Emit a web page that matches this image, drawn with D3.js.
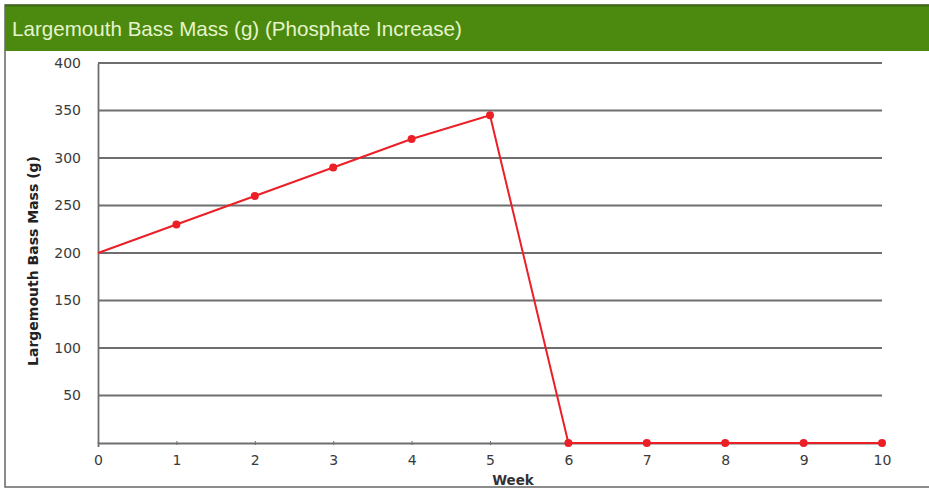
<!DOCTYPE html>
<html><head><meta charset="utf-8">
<script src="https://cdn.jsdelivr.net/npm/d3@7"></script>
<style>body{margin:0;background:#fff;}</style>
</head><body>
<svg id="c" width="929" height="490"></svg>
<script>
const title = "Largemouth Bass Mass (g) (Phosphate Increase)";
const weeks = [0,1,2,3,4,5,6,7,8,9,10];
const mass = [200,230,260,290,320,345,0,0,0,0,0];
const yTicks = [50,100,150,200,250,300,350,400];
const xLabel = "Week";
const yLabel = "Largemouth Bass Mass (g)";

const svg = d3.select("#c");
// frame
svg.append("rect").attr("x",5).attr("y",5).attr("width",930).attr("height",482)
  .attr("fill","#fff").attr("stroke","#666").attr("stroke-width",1.5);
// header
svg.append("rect").attr("x",5).attr("y",5).attr("width",930).attr("height",46).attr("fill","#4b8a0e");
svg.append("line").attr("x1",5).attr("x2",929).attr("y1",5.5).attr("y2",5.5).attr("stroke","#3d6b14").attr("stroke-width",2);
svg.append("text").attr("x",12).attr("y",36).attr("fill","#e6f4cc")
  .attr("font-family","Liberation Sans, Arial, sans-serif").attr("font-size",20.6).text(title);

const x = d3.scaleLinear().domain([0,10]).range([98,882]);
const y = d3.scaleLinear().domain([0,400]).range([443,63]);

// gridlines
svg.append("g").selectAll("line").data(yTicks).join("line")
  .attr("x1",x(0)).attr("x2",x(10)).attr("y1",d=>y(d)).attr("y2",d=>y(d))
  .attr("stroke","#6e6e6e").attr("stroke-width",1.8);

// y axis
const ya = svg.append("g").attr("transform",`translate(${x(0)},0)`)
  .call(d3.axisLeft(y).tickValues(yTicks).tickSize(0).tickPadding(17));
ya.select(".domain").attr("stroke","#6e6e6e").attr("stroke-width",1.8);
ya.selectAll("text").attr("font-family","DejaVu Sans, sans-serif").attr("font-size",14).attr("fill","#3a3a3a");

// x axis
const xa = svg.append("g").attr("transform",`translate(0,${y(0)})`)
  .call(d3.axisBottom(x).tickValues(weeks).tickSize(4).tickPadding(8).tickFormat(d3.format("d")));
xa.select(".domain").attr("stroke","#6e6e6e").attr("stroke-width",1.8);
xa.selectAll(".tick line").attr("stroke","#6e6e6e").attr("transform","translate(0,-2)");
xa.selectAll("text").attr("font-family","DejaVu Sans, sans-serif").attr("font-size",14).attr("fill","#3a3a3a");

// axis titles
svg.append("text").attr("x",513).attr("y",485).attr("text-anchor","middle")
  .attr("font-family","DejaVu Sans, sans-serif").attr("font-weight","bold").attr("font-size",13.5).attr("fill","#333").text(xLabel);
svg.append("text").attr("transform",`translate(38,261) rotate(-90)`).attr("text-anchor","middle")
  .attr("font-family","DejaVu Sans, sans-serif").attr("font-weight","bold").attr("font-size",14).attr("fill","#222").text(yLabel);

// line
const pts = weeks.map((w,i)=>[w,mass[i]]);
svg.append("path").datum(pts).attr("fill","none").attr("stroke","#ec1f27").attr("stroke-width",2)
  .attr("d",d3.line().x(d=>x(d[0])).y(d=>y(d[1])));
svg.append("g").selectAll("circle").data(pts.slice(1)).join("circle")
  .attr("cx",d=>x(d[0])).attr("cy",d=>y(d[1])).attr("r",4).attr("fill","#ec1f27");
</script>
</body></html>
